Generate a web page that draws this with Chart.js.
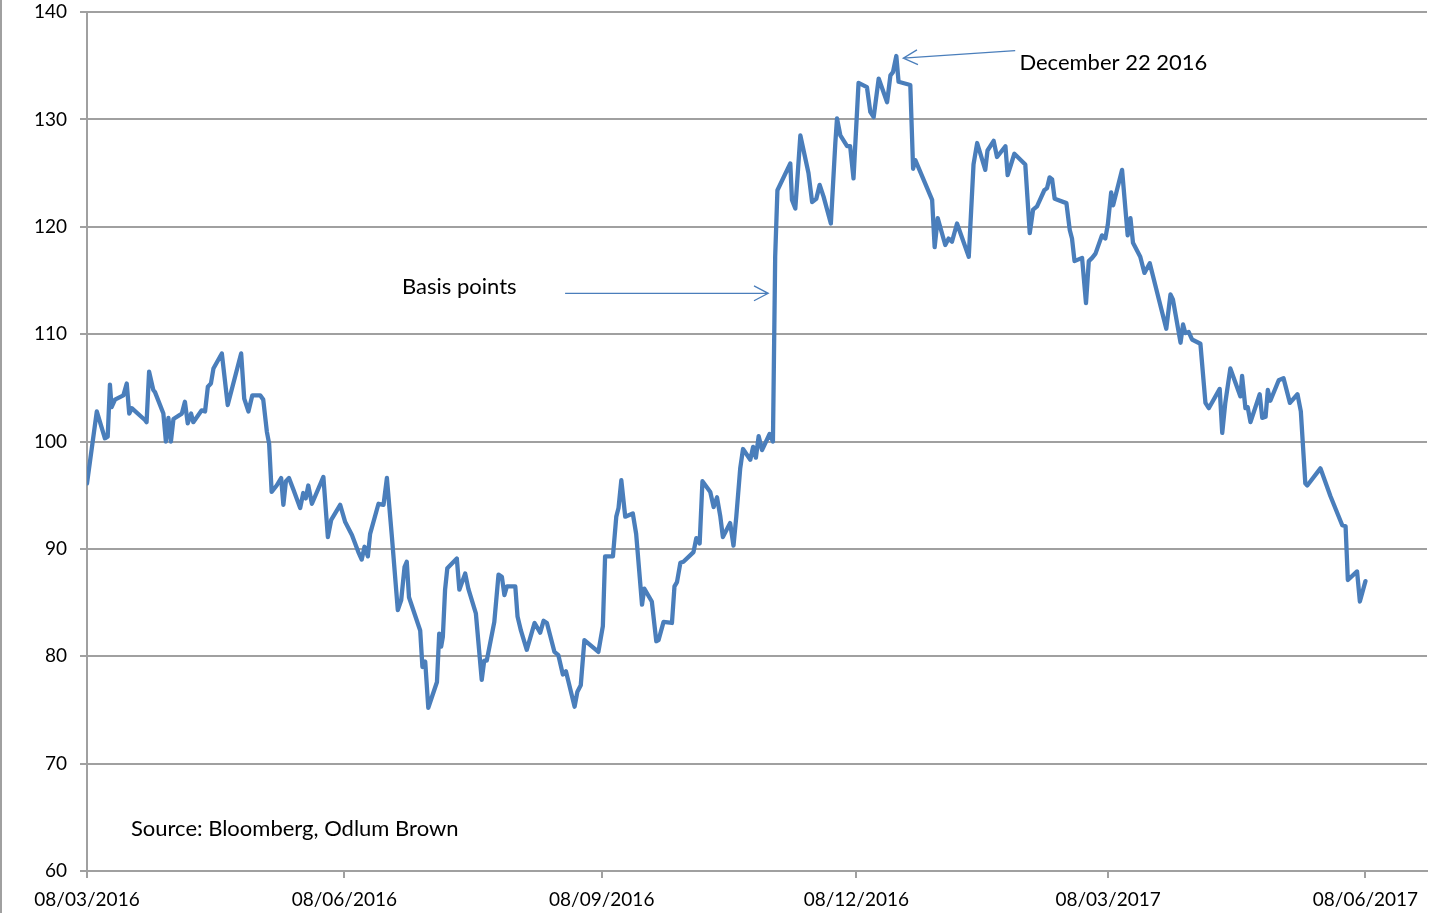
<!DOCTYPE html>
<html>
<head>
<meta charset="utf-8">
<title>Spread (basis points)</title>
<script src="https://cdn.jsdelivr.net/npm/chart.js@4.4.1/dist/chart.umd.min.js"></script>
<style>
    html, body { margin: 0; padding: 0; background: #fff; }
    canvas { display: block; }
</style>
</head>
<body>
<canvas id="chart" width="1429" height="913"></canvas>
<script>
// Days counted from 08/03/2016 (dd/mm/yyyy)
const START_DATE = Date.UTC(2016, 2, 8);

const dayOffsets = [
    0, 3.5, 6.4, 7.4, 8.2, 8.8, 10.0, 13.0, 14.2, 15.1, 16.0, 20.7, 21.3, 22.2, 23.7, 24.3,
    27.3, 28.2, 29.1, 30.0, 30.9, 33.9, 35.0, 36.0, 37.2, 38.0, 41.0, 42.2, 43.2, 44.3, 45.2,
    48.2, 50.3, 55.1, 56.2, 57.7, 59.1, 61.9, 63.0, 64.3, 65.1, 66.0, 67.8, 69.4, 70.2, 71.1,
    72.2, 73.8, 76.2, 77.3, 78.2, 79.1, 80.4, 84.5, 86.1, 87.3, 90.5, 92.3, 94.7, 97.0, 98.2,
    99.2, 100.4, 101.2, 104.2, 106.0, 107.2, 109.0, 111.1, 112.3, 113.5, 114.3, 115.1, 119.1,
    119.9, 120.9, 122.0, 125.1, 125.9, 126.6, 127.2, 128.0, 128.8, 132.2, 133.1, 135.2, 136.3,
    139.0, 141.1, 142.0, 142.9, 145.6, 147.1, 148.3, 149.2, 150.1, 153.1, 153.9, 155.1, 157.2,
    160.0, 162.0, 163.2, 164.4, 167.1, 168.5, 170.1, 171.2, 174.3, 175.3, 176.5, 177.8, 182.8,
    184.4, 185.2, 188.0, 189.2, 190.0, 191.0, 192.4, 195.1, 196.3, 198.4, 199.2, 201.9, 203.5,
    204.3, 206.1, 209.1, 210.0, 210.9, 212.1, 213.2, 216.8, 217.8, 219.0, 220.0, 222.8, 224.0,
    225.2, 226.4, 227.3, 229.9, 231.1, 232.1, 233.5, 234.5, 237.1, 238.1, 239.1, 240.1, 241.3,
    244.0, 245.2, 246.0, 246.8, 251.4, 252.0, 253.2, 255.0, 257.9, 259.2, 260.7, 261.9, 263.3,
    265.9, 267.5, 268.1, 269.3, 271.7, 272.8, 274.0, 275.8, 278.8, 280.0, 281.2, 283.0, 286.0,
    287.2, 288.1, 289.3, 290.1, 294.3, 295.3, 296.1, 302.1, 303.0, 304.1, 306.8, 308.0, 309.2,
    311.0, 315.2, 316.9, 318.2, 321.1, 321.9, 324.1, 325.3, 328.3, 329.1, 331.5, 335.4, 337.0,
    338.2, 339.6, 342.2, 343.2, 344.1, 345.0, 345.9, 350.1, 351.3, 352.1, 353.0, 355.7, 357.1,
    358.1, 359.3, 360.5, 362.8, 364.0, 364.9, 366.1, 366.8, 370.0, 372.0, 373.0, 373.9, 376.5,
    378.0, 379.9, 385.8, 387.3, 388.2, 390.9, 391.8, 392.6, 393.8, 395.0, 398.0, 399.8, 401.0,
    404.9, 405.8, 406.9, 408.7, 412.3, 412.9, 414.1, 414.9, 415.9, 419.2, 420.1, 421.3, 422.1,
    423.0, 426.0, 427.7, 430.0, 432.7, 433.9, 435.5, 436.2, 440.9, 444.5, 448.7, 449.9, 450.7,
    454.0, 455.0, 457.0
];

const spreadBp = [
    96.1, 102.8, 100.3, 100.45, 105.3, 103.2, 103.9, 104.3, 105.4, 102.6, 103.1, 102.0, 101.8, 106.5, 104.8, 104.6,
    102.6, 100.0, 102.2, 100.0, 102.1, 102.6, 103.7, 101.7, 102.6, 101.8, 102.9, 102.8, 105.1, 105.4, 106.8,
    108.2, 103.4, 108.2, 104.0, 102.8, 104.3, 104.3, 103.9, 100.9, 99.8, 95.3, 95.9, 96.6, 94.1, 96.3,
    96.6, 95.5, 93.8, 95.2, 94.7, 95.9, 94.2, 96.7, 91.1, 92.7, 94.1, 92.5, 91.3, 89.7, 89.0,
    90.2, 89.3, 91.4, 94.2, 94.1, 96.6, 91.1, 84.3, 85.2, 88.3, 88.8, 85.5, 82.4,
    79.0, 79.5, 75.2, 77.6, 82.1, 80.9, 81.8, 86.2, 88.2, 89.1, 86.2, 87.7, 86.3,
    84.0, 77.8, 79.6, 79.6, 83.2, 87.6, 87.4, 85.7, 86.5, 86.5, 83.7, 82.4, 80.6,
    83.1, 82.2, 83.3, 83.1, 80.4, 80.1, 78.3, 78.6, 75.3, 76.7, 77.3, 81.5, 80.4,
    82.8, 89.3, 89.3, 93.0, 93.8, 96.4, 93.0, 93.3, 91.4, 84.8, 86.3, 85.1, 81.4,
    81.5, 83.2, 83.1, 86.5, 86.9, 88.7, 88.8, 89.7, 91.0, 90.5, 96.3, 95.3, 93.9,
    94.8, 93.0, 91.1, 92.4, 90.3, 93.0, 97.5, 99.3, 98.3, 99.5, 98.5, 100.5, 99.2,
    100.7, 100.0, 117.2, 123.4, 125.9, 122.5, 121.7, 128.5, 125.0, 122.3, 122.6, 123.9, 122.8,
    120.3, 127.8, 130.1, 128.5, 127.5, 127.5, 124.5, 133.4, 133.0, 130.7, 130.2, 133.8, 131.6,
    134.1, 134.4, 135.9, 133.5, 133.2, 125.4, 126.2, 122.5, 118.1, 120.8, 118.3, 118.9, 118.6,
    120.3, 117.2, 125.8, 127.8, 125.3, 127.1, 128.0, 126.5, 127.5, 124.8, 126.8, 125.8, 119.4,
    121.6, 121.9, 123.4, 123.6, 124.6, 124.4, 122.6, 122.2, 119.7, 118.9, 116.8, 117.1, 112.9,
    116.8, 117.1, 117.5, 119.2, 118.9, 120.2, 123.2, 122.0, 125.3, 119.2, 120.8, 118.5, 117.2,
    115.7, 116.6, 110.5, 113.7, 113.2, 109.2, 110.9, 110.1, 110.2, 109.5, 109.1, 103.6, 103.1,
    104.9, 100.8, 103.6, 106.8, 104.2, 106.1, 103.1, 103.2, 101.8, 104.4, 102.2, 102.3, 104.8,
    103.8, 105.7, 105.9, 103.6, 104.4, 102.8, 96.1, 95.9, 97.5, 94.9, 92.2, 92.1, 87.1,
    87.9, 85.1, 87.0
];

// Date ticks on the x axis (day offsets)
const tickDays = [0, 92, 184, 275, 365, 457];
const Y_MIN = 60, Y_MAX = 140, Y_STEP = 10;

const FONT = 'Lato, "Open Sans", sans-serif';
const LINE_BLUE = '#4a7ebb';
const GRID_GREY = '#a0a0a0';

function formatDate(days) {
    const d = new Date(START_DATE + Math.round(days) * 86400000);
    const dd = String(d.getUTCDate()).padStart(2, '0');
    const mm = String(d.getUTCMonth() + 1).padStart(2, '0');
    return dd + '/' + mm + '/' + d.getUTCFullYear();
}

// arrow with an open head at the tip
function drawArrow(ctx, x1, y1, x2, y2) {
    const ang = Math.atan2(y2 - y1, x2 - x1);
    const len = 16, spread = 0.48;
    ctx.beginPath();
    ctx.moveTo(x1, y1);
    ctx.lineTo(x2, y2);
    ctx.moveTo(x2 - len * Math.cos(ang - spread), y2 - len * Math.sin(ang - spread));
    ctx.lineTo(x2, y2);
    ctx.lineTo(x2 - len * Math.cos(ang + spread), y2 - len * Math.sin(ang + spread));
    ctx.stroke();
}

const notesPlugin = {
    id: 'notes',
    beforeDraw(chart) {
        // grey frame line at the left edge of the picture
        const ctx = chart.ctx;
        ctx.save();
        ctx.fillStyle = GRID_GREY;
        ctx.fillRect(0, 0, 2, chart.height);
        ctx.restore();
    },
    afterDraw(chart) {
        const ctx = chart.ctx;
        const x = chart.scales.x, y = chart.scales.y;
        ctx.save();
        ctx.fillStyle = '#000';
        ctx.font = '22px ' + FONT;
        ctx.textAlign = 'left';
        ctx.textBaseline = 'middle';
        ctx.fillText('December 22 2016', x.getPixelForValue(333.3), y.getPixelForValue(135.3));
        ctx.fillText('Basis points', x.getPixelForValue(112.6), y.getPixelForValue(114.4));
        ctx.fillText('Source: Bloomberg, Odlum Brown', x.getPixelForValue(15.7), y.getPixelForValue(63.9));

        ctx.strokeStyle = LINE_BLUE;
        ctx.lineWidth = 1.3;
        drawArrow(ctx, x.getPixelForValue(331.8), y.getPixelForValue(136.4),
                       x.getPixelForValue(291.8), y.getPixelForValue(135.7));
        drawArrow(ctx, x.getPixelForValue(170.9), y.getPixelForValue(113.8),
                       x.getPixelForValue(243.5), y.getPixelForValue(113.8));
        ctx.restore();
    }
};

const points = dayOffsets.map((d, i) => ({ x: d, y: spreadBp[i] }));

new Chart(document.getElementById('chart'), {
    type: 'line',
    data: {
        datasets: [{
            data: points,
            borderColor: LINE_BLUE,
            borderWidth: 4.3,
            borderJoinStyle: 'round',
            borderCapStyle: 'round',
            pointRadius: 0,
            tension: 0,
            fill: false
        }]
    },
    options: {
        responsive: false,
        animation: false,
        layout: { padding: { top: 0, right: 2, left: 0, bottom: 0 } },
        plugins: {
            legend: { display: false },
            tooltip: { enabled: false }
        },
        scales: {
            x: {
                type: 'linear',
                min: 0,
                max: 479,
                afterBuildTicks: (scale) => {
                    scale.ticks = tickDays.map(v => ({ value: v }));
                },
                afterFit: (scale) => { scale.height = 42; },
                grid: {
                    drawOnChartArea: false,
                    drawTicks: true,
                    tickLength: 7,
                    color: GRID_GREY,
                    lineWidth: 2
                },
                border: { color: GRID_GREY, width: 2 },
                ticks: {
                    autoSkip: false,
                    maxRotation: 0,
                    padding: 10,
                    color: '#000',
                    font: { family: FONT, size: 19 },
                    callback: (v) => formatDate(v)
                }
            },
            y: {
                min: Y_MIN,
                max: Y_MAX,
                afterFit: (scale) => {
                    scale.width = 87;
                    scale.paddingTop = 12;
                    scale.paddingBottom = 0;
                },
                grid: {
                    color: GRID_GREY,
                    lineWidth: 2,
                    drawTicks: true,
                    tickLength: 7
                },
                border: { color: GRID_GREY, width: 2 },
                ticks: {
                    stepSize: Y_STEP,
                    padding: 13,
                    color: '#000',
                    font: { family: FONT, size: 19 }
                }
            }
        }
    },
    plugins: [notesPlugin]
});
</script>
</body>
</html>
